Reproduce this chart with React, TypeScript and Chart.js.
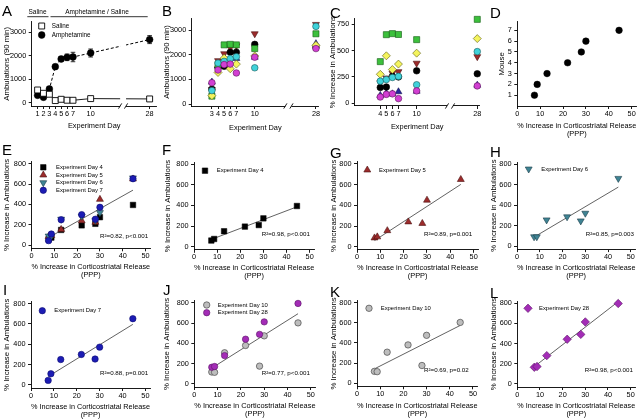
import React, { useEffect, useRef } from "react";
import { Chart, registerables } from "chart.js";

Chart.register(...registerables);

const FONT = "'Liberation Sans', Arial, Helvetica, sans-serif";
const CW = 640;
const CH = 420;

// ================= DATA =================
// Panel A: group means of ambulations (90 min) with SEM
const daysA = [1, 2, 3, 4, 5, 6, 7, 10, 28];
const salineMean = [550, 410, 370, 100, 155, 115, 113, 184, 170];
const salineSem = [50, 45, 40, 25, 25, 20, 20, 30, 30];
const amphMean = [325, 240, 594, 1540, 1867, 1937, 1950, 2120, 2690];
const amphSem = [60, 60, 70, 80, 90, 140, 200, 170, 170];

// Panel B: individual mice ambulations (90 min)
const daysB = [3, 4, 5, 6, 7, 10, 28];
const ambMouse1 = [865, 1380, 1600, 1620, 1260, 1900, 2250];
const ambMouse2 = [890, 1540, 1680, 1680, 1850, 1900, 2450];
const ambMouse3 = [600, 1480, 1530, 2100, 2100, 2420, 2300];
const ambMouse4 = [590, 1760, 2040, 2280, 2360, 2850, 3230];
const ambMouse5 = [545, 1660, 1730, 1840, 1920, 1470, 3150];
const ambMouse6 = [340, 1280, 1860, 1430, 1620, 1950, 2380];
const ambMouse7 = [320, 1600, 2400, 2420, 2400, 2250, 2850];

// % increase in ambulations for mice 1..7, per experiment day
const daysC = [4, 5, 6, 7, 10, 28];
const incDay4 = [60, 75, 150, 195, 210, 275, 395];
const incDay5 = [85, 95, 155, 240, 225, 450, 650];
const incDay6 = [90, 90, 255, 285, 245, 320, 660];
const incDay7 = [45, 110, 250, 300, 255, 372, 652];
const incDay10 = [118, 115, 308, 380, 176, 475, 603];
const incDay28 = [165, 172, 280, 442, 490, 613, 795];

// Panel D: mouse vs % increase in corticostriatal release (PPP)
const mouseNumbers = [1, 2, 3, 4, 5, 6, 7];
const releasePPP = [7.5, 8.7, 13, 22, 28, 30, 44.5];

// Tick values
const tickDaysA = [1, 2, 3, 4, 5, 6, 7, 10, 28];
const tickDaysB = [3, 4, 5, 6, 7, 10, 28];
const tickDaysC = [4, 5, 6, 7, 10, 28];
const tickAmb = [0, 1000, 2000, 3000];
const tickIncC = [0, 250, 500, 750];
const tickMouse = [1, 2, 3, 4, 5, 6, 7];
const tickRelease = [0, 10, 20, 30, 40, 50];
const tickInc = [0, 200, 400, 600, 800];

// Statistics text
const statE = "R\u00B2=0.82, p<0.001";
const statF = "R\u00B2=0.98, p<0.001";
const statG = "R\u00B2=0.89, p=0.001";
const statH = "R\u00B2=0.85, p=0.003";
const statI = "R\u00B2=0.88, p=0.001";
const statJ = "R\u00B2=0.77, p<0.001";
const statK = "R\u00B2=0.69, p=0.02";
const statL = "R\u00B2=0.98, p<0.001";

// ================= HELPERS =================
// x-axis break: days after the break are shifted left
const BREAK_SHIFT = 8;
const dayPos = (d: number) => (d > 15 ? d - BREAK_SHIFT : d);

type Marker = { style: string; r: number; rot: number; bg: string; border: string; bw: number };

const MOUSE_MARKERS: Marker[] = [
  { style: "circle", r: 3.3, rot: 0, bg: "#d23fd2", border: "#5a1a5a", bw: 0.6 },
  { style: "triangle", r: 4, rot: 0, bg: "#26269c", border: "#101050", bw: 0.6 },
  { style: "circle", r: 3.3, rot: 0, bg: "#000000", border: "#000000", bw: 0.6 },
  { style: "triangle", r: 4, rot: 180, bg: "#9c2b2b", border: "#4a1010", bw: 0.6 },
  { style: "circle", r: 3.3, rot: 0, bg: "#40d2da", border: "#1a5a5a", bw: 0.6 },
  { style: "rectRot", r: 4, rot: 0, bg: "#f4f45c", border: "#5a5a10", bw: 0.6 },
  { style: "rect", r: 4.3, rot: 0, bg: "#3cc03c", border: "#105a10", bw: 0.6 },
];
const MOUSE_ORDER = [0, 6, 4, 5, 1, 2, 3];

const M_DAY4: Marker = { style: "rect", r: 3.9, rot: 0, bg: "#000000", border: "#000000", bw: 0.5 };
const M_DAY5: Marker = { style: "triangle", r: 4, rot: 0, bg: "#9c2b2b", border: "#4a1010", bw: 0.6 };
const M_DAY6: Marker = { style: "triangle", r: 4, rot: 180, bg: "#3f8494", border: "#1c3c48", bw: 0.6 };
const M_DAY7: Marker = { style: "circle", r: 3.2, rot: 0, bg: "#1c1cb4", border: "#0c0c70", bw: 0.6 };
const M_DAY10: Marker = { style: "circle", r: 3.2, rot: 0, bg: "#bdbdbd", border: "#4a4a4a", bw: 0.7 };
const M_DAY28: Marker = { style: "circle", r: 3.2, rot: 0, bg: "#a32cb6", border: "#5a1466", bw: 0.6 };
const M_DAY28L: Marker = { style: "rectRot", r: 4.2, rot: 0, bg: "#a32cb6", border: "#5a1466", bw: 0.6 };
const M_SALINE: Marker = { style: "rect", r: 4.2, rot: 0, bg: "#ffffff", border: "#000000", bw: 0.9 };
const M_AMPH: Marker = { style: "circle", r: 3.4, rot: 0, bg: "#000000", border: "#000000", bw: 0.5 };
const M_D: Marker = { style: "circle", r: 3.3, rot: 0, bg: "#000000", border: "#000000", bw: 0.5 };

function markerProps(m: Marker) {
  return {
    pointStyle: m.style,
    pointRadius: m.r,
    pointHoverRadius: m.r,
    pointRotation: m.rot,
    pointBackgroundColor: m.bg,
    pointBorderColor: m.border,
    pointBorderWidth: m.bw,
  };
}

function drawMarker(ctx: CanvasRenderingContext2D, m: Marker, x: number, y: number) {
  ctx.save();
  ctx.translate(x, y);
  ctx.rotate((m.rot * Math.PI) / 180);
  ctx.beginPath();
  const r = m.r;
  if (m.style === "circle") {
    ctx.arc(0, 0, r, 0, Math.PI * 2);
  } else if (m.style === "rect") {
    const s = r * Math.SQRT1_2;
    ctx.rect(-s, -s, 2 * s, 2 * s);
  } else if (m.style === "rectRot") {
    ctx.moveTo(0, -r);
    ctx.lineTo(r, 0);
    ctx.lineTo(0, r);
    ctx.lineTo(-r, 0);
    ctx.closePath();
  } else if (m.style === "triangle") {
    let a = 0;
    ctx.moveTo(Math.sin(a) * r, -Math.cos(a) * r);
    a += (2 * Math.PI) / 3;
    ctx.lineTo(Math.sin(a) * r, -Math.cos(a) * r);
    a += (2 * Math.PI) / 3;
    ctx.lineTo(Math.sin(a) * r, -Math.cos(a) * r);
    ctx.closePath();
  }
  ctx.fillStyle = m.bg;
  ctx.fill();
  if (m.bw > 0) {
    ctx.lineWidth = m.bw;
    ctx.strokeStyle = m.border;
    ctx.stroke();
  }
  ctx.restore();
}

function leastSquares(xs: number[], ys: number[]) {
  const n = xs.length;
  const mx = xs.reduce((a, b) => a + b, 0) / n;
  const my = ys.reduce((a, b) => a + b, 0) / n;
  let sxy = 0;
  let sxx = 0;
  for (let i = 0; i < n; i++) {
    sxy += (xs[i] - mx) * (ys[i] - my);
    sxx += (xs[i] - mx) * (xs[i] - mx);
  }
  const b = sxy / sxx;
  const a = my - b * mx;
  const x0 = Math.min(...xs);
  const x1 = Math.max(...xs);
  return [
    { x: x0, y: a + b * x0 },
    { x: x1, y: a + b * x1 },
  ];
}

function fitDataset(xs: number[], ys: number[]) {
  return {
    data: leastSquares(xs, ys),
    showLine: true,
    borderColor: "#3a3a3a",
    borderWidth: 0.8,
    pointRadius: 0,
    pointHoverRadius: 0,
    order: 50,
    clip: false,
  };
}

function scatterSet(xs: number[], ys: number[], m: Marker, order: number) {
  return {
    data: xs.map((x, i) => ({ x, y: ys[i] })),
    ...markerProps(m),
    order,
    clip: false,
  };
}

// ================= LAYOUT / AXES =================
type Area = { l: number; t: number; r: number; b: number };
type AxisSpec = { min: number; max: number; ticks: number[]; labels?: string[]; title: string | string[] };
type LegendItem = { x: number; y: number; tx: number; text: string; m: Marker };
type Note = { x: number; y: number; text: string; size: number; align?: CanvasTextAlign };
type Decor = {
  legend?: LegendItem[];
  legendSize?: number;
  notes?: Note[];
  breakAt?: [number, number];
  errorBars?: { x: number; y: number; e: number }[];
  hlines?: { x1: number; x2: number; y: number }[];
};
type PanelSpec = {
  area: Area;
  yTitleX: number;
  xTitleY: number;
  x: AxisSpec;
  y: AxisSpec;
  datasets: any[];
  decor: Decor;
};

const TICK_FONT = { family: FONT, size: 7.3, lineHeight: 1.0 };
const X_TITLE_FONT = { family: FONT, size: 7.4, lineHeight: 1.05 };
const Y_TITLE_FONT = { family: FONT, size: 7.8, lineHeight: 1.1 };

function decorPlugin(cfg: Decor) {
  return {
    id: "decor",
    beforeDatasetsDraw(chart: any) {
      if (!cfg.errorBars) return;
      const { ctx } = chart;
      const xs = chart.scales.x;
      const ys = chart.scales.y;
      ctx.save();
      ctx.strokeStyle = "#000";
      ctx.lineWidth = 0.8;
      for (const p of cfg.errorBars) {
        const px = xs.getPixelForValue(p.x);
        const top = ys.getPixelForValue(p.y + p.e);
        const bot = ys.getPixelForValue(p.y - p.e);
        ctx.beginPath();
        ctx.moveTo(px, top);
        ctx.lineTo(px, bot);
        ctx.moveTo(px - 2.3, top);
        ctx.lineTo(px + 2.3, top);
        ctx.moveTo(px - 2.3, bot);
        ctx.lineTo(px + 2.3, bot);
        ctx.stroke();
      }
      ctx.restore();
    },
    afterDraw(chart: any) {
      const { ctx, chartArea } = chart;
      const xs = chart.scales.x;
      ctx.save();
      if (cfg.breakAt) {
        const x1 = xs.getPixelForValue(cfg.breakAt[0]);
        const x2 = xs.getPixelForValue(cfg.breakAt[1]);
        ctx.fillStyle = "#fff";
        ctx.fillRect(x1, chartArea.top - 2, x2 - x1, chartArea.bottom - chartArea.top + 3.2);
        ctx.strokeStyle = "#000";
        ctx.lineWidth = 0.9;
        for (const xx of [x1, x2]) {
          ctx.beginPath();
          ctx.moveTo(xx - 1.6, chartArea.bottom + 2.6);
          ctx.lineTo(xx + 1.6, chartArea.bottom - 2.6);
          ctx.stroke();
        }
      }
      if (cfg.hlines) {
        ctx.strokeStyle = "#000";
        ctx.lineWidth = 0.8;
        for (const h of cfg.hlines) {
          ctx.beginPath();
          ctx.moveTo(h.x1, h.y);
          ctx.lineTo(h.x2, h.y);
          ctx.stroke();
        }
      }
      if (cfg.legend) {
        for (const it of cfg.legend) {
          drawMarker(ctx, it.m, it.x, it.y);
          ctx.fillStyle = "#000";
          ctx.font = `${cfg.legendSize || 5.9}px ${FONT}`;
          ctx.textAlign = "left";
          ctx.textBaseline = "middle";
          ctx.fillText(it.text, it.tx, it.y);
        }
      }
      if (cfg.notes) {
        for (const n of cfg.notes) {
          ctx.fillStyle = "#000";
          ctx.font = `${n.size}px ${FONT}`;
          ctx.textAlign = n.align || "left";
          ctx.textBaseline = "middle";
          ctx.fillText(n.text, n.x, n.y);
        }
      }
      ctx.restore();
    },
  };
}

function buildConfig(spec: PanelSpec): any {
  const { area } = spec;
  const yLh = Y_TITLE_FONT.size * Y_TITLE_FONT.lineHeight;
  const xLh = X_TITLE_FONT.size * X_TITLE_FONT.lineHeight;
  const nX = Array.isArray(spec.x.title) ? spec.x.title.length : 1;
  const padLeft = spec.yTitleX - yLh / 2;
  const yW = area.l - padLeft;
  const xBottom = spec.xTitleY + xLh / 2 + xLh * (nX - 1);
  const xH = xBottom - area.b;

  const gridCommon = {
    display: true,
    drawOnChartArea: false,
    drawTicks: true,
    tickLength: 3,
    color: "#000",
    lineWidth: 0.9,
  };
  const borderCommon = { display: true, color: "#000", width: 0.9 };

  return {
    type: "scatter",
    data: { datasets: spec.datasets },
    options: {
      animation: false,
      responsive: false,
      maintainAspectRatio: false,
      events: [],
      layout: {
        padding: { left: padLeft, top: area.t, right: CW - area.r, bottom: CH - xBottom },
      },
      plugins: {
        legend: { display: false },
        title: { display: false },
        tooltip: { enabled: false },
      },
      elements: { line: { tension: 0 } },
      scales: {
        x: {
          type: "linear",
          position: "bottom",
          min: spec.x.min,
          max: spec.x.max,
          grid: gridCommon,
          border: borderCommon,
          afterBuildTicks: (s: any) => {
            s.ticks = spec.x.ticks.map((v) => ({ value: v }));
          },
          afterFit: (s: any) => {
            s.height = xH;
            s.paddingLeft = 0;
            s.paddingRight = 0;
          },
          ticks: {
            font: TICK_FONT,
            color: "#000",
            padding: 1,
            autoSkip: false,
            maxRotation: 0,
            minRotation: 0,
            callback: (v: number, i: number) => (spec.x.labels ? spec.x.labels[i] : String(v)),
          },
          title: { display: true, text: spec.x.title, font: X_TITLE_FONT, color: "#000", padding: 0 },
        },
        y: {
          type: "linear",
          position: "left",
          min: spec.y.min,
          max: spec.y.max,
          grid: gridCommon,
          border: borderCommon,
          afterBuildTicks: (s: any) => {
            s.ticks = spec.y.ticks.map((v) => ({ value: v }));
          },
          afterFit: (s: any) => {
            s.width = yW;
            s.paddingTop = 0;
            s.paddingBottom = 0;
          },
          ticks: {
            font: TICK_FONT,
            color: "#000",
            padding: 2.5,
            autoSkip: false,
            callback: (v: number, i: number) => (spec.y.labels ? spec.y.labels[i] : String(v)),
          },
          title: { display: true, text: spec.y.title, font: Y_TITLE_FONT, color: "#000", padding: 0 },
        },
      },
    },
    plugins: [decorPlugin(spec.decor)],
  };
}

// ================= PANELS =================
const ambByMouse = [ambMouse1, ambMouse2, ambMouse3, ambMouse4, ambMouse5, ambMouse6, ambMouse7];
const incByDay = [incDay4, incDay5, incDay6, incDay7, incDay10, incDay28];

const dayAxisTitle = "Experiment Day";
const releaseTitle = ["% Increase in Corticostriatal Release", "(PPP)"];
const incTitle = "% Increase in Ambulations";
const ambTitle = "Ambulations (90 min)";

const releaseAxis = (): AxisSpec => ({ min: 0, max: 52, ticks: tickRelease, title: releaseTitle });
const incAxis = (): AxisSpec => ({ min: -30, max: 820, ticks: tickInc, title: incTitle });

const panelA: PanelSpec = {
  area: { l: 31.7, t: 21.7, r: 156.7, b: 106 },
  yTitleX: 7,
  xTitleY: 126,
  x: { min: 0, max: 21.2, ticks: tickDaysA.map(dayPos), labels: tickDaysA.map(String), title: dayAxisTitle },
  y: { min: -130, max: 3450, ticks: tickAmb, title: ambTitle },
  datasets: [
    {
      data: daysA.map((d, i) => ({ x: dayPos(d), y: amphMean[i] })),
      showLine: true,
      borderColor: "#000",
      borderWidth: 1,
      borderDash: [3, 2],
      ...markerProps(M_AMPH),
      order: 1,
      clip: false,
    },
    {
      data: daysA.map((d, i) => ({ x: dayPos(d), y: salineMean[i] })),
      showLine: true,
      borderColor: "#000",
      borderWidth: 0.9,
      ...markerProps(M_SALINE),
      order: 0,
      clip: false,
    },
  ],
  decor: {
    breakAt: [15, 16],
    errorBars: [
      ...daysA.map((d, i) => ({ x: dayPos(d), y: amphMean[i], e: amphSem[i] })),
      ...daysA.map((d, i) => ({ x: dayPos(d), y: salineMean[i], e: salineSem[i] })),
    ],
    legend: [
      { x: 41.7, y: 26, tx: 51.7, text: "Saline", m: M_SALINE },
      { x: 41.7, y: 35, tx: 51.7, text: "Amphetamine", m: M_AMPH },
    ],
    legendSize: 6.3,
    hlines: [
      { x1: 27.3, x2: 48.5, y: 16.7 },
      { x1: 50.5, x2: 147.7, y: 16.7 },
    ],
    notes: [
      { x: 37.5, y: 12.6, text: "Saline", size: 6.5, align: "center" },
      { x: 97, y: 12.6, text: "Amphetamine / Saline", size: 6.5, align: "center" },
    ],
  },
};

const panelB: PanelSpec = {
  area: { l: 191.7, t: 18, r: 319, b: 106 },
  yTitleX: 167,
  xTitleY: 128.3,
  x: { min: -0.3, max: 20.5, ticks: tickDaysB.map(dayPos), labels: tickDaysB.map(String), title: dayAxisTitle },
  y: { min: -80, max: 3490, ticks: tickAmb, title: ambTitle },
  datasets: ambByMouse.map((vals, k) =>
    scatterSet(daysB.map(dayPos), vals, MOUSE_MARKERS[k], MOUSE_ORDER[k])
  ),
  decor: { breakAt: [15, 16] },
};

const panelC: PanelSpec = {
  area: { l: 354.7, t: 18.3, r: 479.7, b: 106 },
  yTitleX: 333,
  xTitleY: 126.7,
  x: { min: -0.22, max: 20.4, ticks: tickDaysC.map(dayPos), labels: tickDaysC.map(String), title: dayAxisTitle },
  y: { min: -25, max: 805, ticks: tickIncC, title: incTitle },
  datasets: mouseNumbers.map((_, k) =>
    scatterSet(daysC.map(dayPos), incByDay.map((arr) => arr[k]), MOUSE_MARKERS[k], MOUSE_ORDER[k])
  ),
  decor: { breakAt: [15, 16] },
};

const panelD: PanelSpec = {
  area: { l: 517.3, t: 21.7, r: 638.7, b: 106 },
  yTitleX: 502.3,
  xTitleY: 126,
  x: releaseAxis(),
  y: { min: 0, max: 7.8, ticks: tickMouse, title: "Mouse" },
  datasets: [scatterSet(releasePPP, mouseNumbers, M_D, 0)],
  decor: {},
};

const panelE: PanelSpec = {
  area: { l: 31.5, t: 161.6, r: 150.1, b: 248.3 },
  yTitleX: 6.7,
  xTitleY: 267.3,
  x: releaseAxis(),
  y: incAxis(),
  datasets: [
    scatterSet(releasePPP, incDay4, M_DAY4, 3),
    scatterSet(releasePPP, incDay5, M_DAY5, 2),
    scatterSet(releasePPP, incDay6, M_DAY6, 1),
    scatterSet(releasePPP, incDay7, M_DAY7, 0),
    fitDataset(
      [...releasePPP, ...releasePPP, ...releasePPP, ...releasePPP],
      [...incDay4, ...incDay5, ...incDay6, ...incDay7]
    ),
  ],
  decor: {
    legend: [
      { x: 43.3, y: 167.3, tx: 56, text: "Experiment Day 4", m: M_DAY4 },
      { x: 43.3, y: 175, tx: 56, text: "Experiment Day 5", m: M_DAY5 },
      { x: 43.3, y: 182.7, tx: 56, text: "Experiment Day 6", m: M_DAY6 },
      { x: 43.3, y: 190.3, tx: 56, text: "Experiment Day 7", m: M_DAY7 },
    ],
    notes: [{ x: 100, y: 236.7, text: statE, size: 6.2 }],
  },
};

const panelF: PanelSpec = {
  area: { l: 194, t: 162.2, r: 314.3, b: 249.8 },
  yTitleX: 168.3,
  xTitleY: 268.3,
  x: releaseAxis(),
  y: incAxis(),
  datasets: [scatterSet(releasePPP, incDay4, M_DAY4, 0), fitDataset(releasePPP, incDay4)],
  decor: {
    legend: [{ x: 205, y: 170.7, tx: 216.7, text: "Experiment Day 4", m: M_DAY4 }],
    notes: [{ x: 261.7, y: 234, text: statF, size: 6.2 }],
  },
};

const panelG: PanelSpec = {
  area: { l: 357, t: 161.9, r: 478.3, b: 249.8 },
  yTitleX: 334,
  xTitleY: 267.7,
  x: releaseAxis(),
  y: incAxis(),
  datasets: [scatterSet(releasePPP, incDay5, M_DAY5, 0), fitDataset(releasePPP, incDay5)],
  decor: {
    legend: [{ x: 367.3, y: 170, tx: 379, text: "Experiment Day 5", m: M_DAY5 }],
    notes: [{ x: 424, y: 234, text: statG, size: 6.2 }],
  },
};

const panelH: PanelSpec = {
  area: { l: 517, t: 162, r: 639, b: 249.1 },
  yTitleX: 494,
  xTitleY: 267.7,
  x: releaseAxis(),
  y: incAxis(),
  datasets: [scatterSet(releasePPP, incDay6, M_DAY6, 0), fitDataset(releasePPP, incDay6)],
  decor: {
    legend: [{ x: 528.7, y: 169, tx: 541.3, text: "Experiment Day 6", m: M_DAY6 }],
    notes: [{ x: 585.7, y: 234, text: statH, size: 6.2 }],
  },
};

const panelI: PanelSpec = {
  area: { l: 31, t: 301.6, r: 150, b: 388 },
  yTitleX: 6.7,
  xTitleY: 407,
  x: releaseAxis(),
  y: incAxis(),
  datasets: [scatterSet(releasePPP, incDay7, M_DAY7, 0), fitDataset(releasePPP, incDay7)],
  decor: {
    legend: [{ x: 42.3, y: 310.7, tx: 54.3, text: "Experiment Day 7", m: M_DAY7 }],
    notes: [{ x: 100, y: 373.3, text: statI, size: 6.2 }],
  },
};

const panelJ: PanelSpec = {
  area: { l: 194.3, t: 300.9, r: 315.5, b: 387 },
  yTitleX: 167.3,
  xTitleY: 406,
  x: releaseAxis(),
  y: incAxis(),
  datasets: [
    scatterSet(releasePPP, incDay10, M_DAY10, 1),
    scatterSet(releasePPP, incDay28, M_DAY28, 0),
    fitDataset([...releasePPP, ...releasePPP], [...incDay10, ...incDay28]),
  ],
  decor: {
    legend: [
      { x: 206.7, y: 305, tx: 217.7, text: "Experiment Day 10", m: M_DAY10 },
      { x: 206.7, y: 312.7, tx: 217.7, text: "Experiment Day 28", m: M_DAY28 },
    ],
    notes: [{ x: 261.7, y: 373.3, text: statJ, size: 6.2 }],
  },
};

const panelK: PanelSpec = {
  area: { l: 357, t: 300.5, r: 477.6, b: 386.3 },
  yTitleX: 334,
  xTitleY: 406,
  x: releaseAxis(),
  y: incAxis(),
  datasets: [scatterSet(releasePPP, incDay10, M_DAY10, 0), fitDataset(releasePPP, incDay10)],
  decor: {
    legend: [{ x: 369, y: 308.3, tx: 380.7, text: "Experiment Day 10", m: M_DAY10 }],
    notes: [{ x: 424, y: 370, text: statK, size: 6.2 }],
  },
};

const panelL: PanelSpec = {
  area: { l: 517.3, t: 301, r: 639, b: 387 },
  yTitleX: 494,
  xTitleY: 406,
  x: releaseAxis(),
  y: incAxis(),
  datasets: [scatterSet(releasePPP, incDay28, M_DAY28L, 0), fitDataset(releasePPP, incDay28)],
  decor: {
    legend: [{ x: 528, y: 308.3, tx: 539, text: "Experiment Day 28", m: M_DAY28L }],
    notes: [{ x: 584.7, y: 370.7, text: statL, size: 6.2 }],
  },
};

const PANELS = [panelA, panelB, panelC, panelD, panelE, panelF, panelG, panelH, panelI, panelJ, panelK, panelL];

const LETTERS = [
  { t: "A", x: 2, base: 15.5 },
  { t: "B", x: 162, base: 15.5 },
  { t: "C", x: 330, base: 18 },
  { t: "D", x: 490, base: 18 },
  { t: "E", x: 2, base: 155 },
  { t: "F", x: 162, base: 155 },
  { t: "G", x: 330, base: 158 },
  { t: "H", x: 490, base: 157 },
  { t: "I", x: 3, base: 295 },
  { t: "J", x: 163, base: 295 },
  { t: "K", x: 330, base: 297 },
  { t: "L", x: 490, base: 298 },
];

function ChartCanvas({ spec }: { spec: PanelSpec }) {
  const ref = useRef<HTMLCanvasElement | null>(null);
  useEffect(() => {
    if (!ref.current) return;
    const chart = new Chart(ref.current, buildConfig(spec));
    return () => chart.destroy();
  }, [spec]);
  return (
    <canvas
      ref={ref}
      width={CW}
      height={CH}
      style={{ position: "absolute", left: 0, top: 0, width: CW, height: CH }}
    />
  );
}

export default function App() {
  return (
    <div
      style={{
        position: "absolute",
        left: 0,
        top: 0,
        width: CW,
        height: CH,
        background: "#fff",
        overflow: "hidden",
      }}
    >
      {PANELS.map((p, i) => (
        <ChartCanvas key={i} spec={p} />
      ))}
      {LETTERS.map((l) => (
        <div
          key={l.t}
          style={{
            position: "absolute",
            left: l.x,
            top: l.base - 12.7,
            fontFamily: FONT,
            fontSize: 15,
            lineHeight: "15px",
            color: "#000",
          }}
        >
          {l.t}
        </div>
      ))}
    </div>
  );
}
